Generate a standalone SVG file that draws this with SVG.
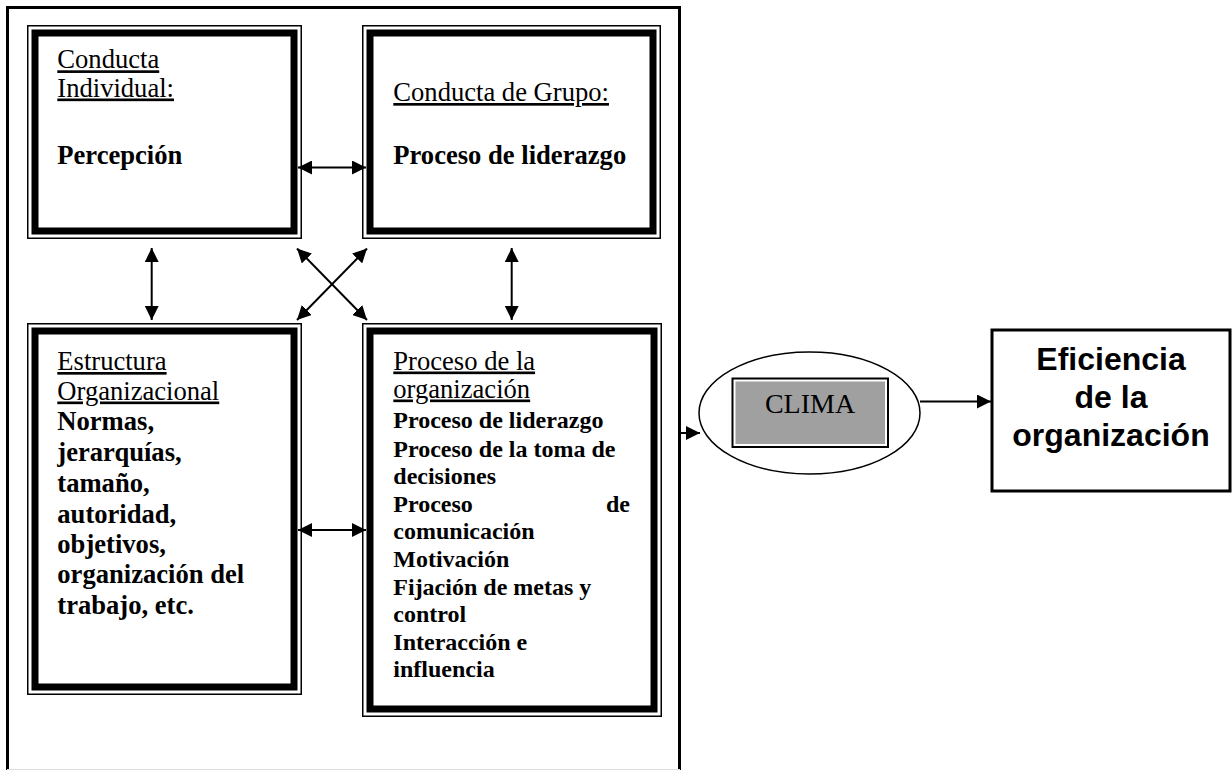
<svg xmlns="http://www.w3.org/2000/svg" width="1232" height="770" viewBox="0 0 1232 770">
<style>
.thin{fill:none;stroke:#000;stroke-width:1.5}
.thick{fill:none;stroke:#000;stroke-width:7}
.frame{fill:none;stroke:#000;stroke-width:3}
.conn{fill:none;stroke:#000;stroke-width:2}
.h{font-family:"Liberation Serif","Times New Roman",serif;font-size:26.6px;fill:#000;text-decoration:underline}
.b{font-family:"Liberation Serif","Times New Roman",serif;font-size:26.6px;font-weight:bold;fill:#000}
.s{font-family:"Liberation Serif","Times New Roman",serif;font-size:24px;font-weight:bold;fill:#000}
.clima{font-family:"Liberation Serif","Times New Roman",serif;font-size:28px;fill:#000}
.ef{font-family:"Liberation Sans",Arial,sans-serif;font-size:32px;font-weight:bold;fill:#000}
</style>
<defs>
<marker id="ah" markerUnits="userSpaceOnUse" markerWidth="15" markerHeight="14" refX="14" refY="7" orient="auto-start-reverse" viewBox="0 0 15 14">
<path d="M0,0 L14,7 L0,14 z" fill="#000"/>
</marker>
</defs>
<rect width="1232" height="770" fill="#fff"/>
<g id="frame">
<path class="frame" d="M7.5,770 V7.5 H679.5 V770"/>
<line x1="7" y1="769.5" x2="680" y2="769.5" stroke="#dcdcdc" stroke-width="1"/>
</g>
<g id="conducta-individual">
<rect class="thin" x="27.75" y="25.75" width="273.5" height="212.5"/>
<rect class="thick" x="35" y="33" width="259" height="198"/>
<text class="h" x="57.3" y="68.3">Conducta</text>
<text class="h" x="57.3" y="96.5">Individual:</text>
<text class="b" x="57.3" y="163.5">Percepción</text>
</g>
<g id="conducta-grupo">
<rect class="thin" x="362.75" y="25.75" width="297.5" height="212.5"/>
<rect class="thick" x="370" y="33" width="283" height="198"/>
<text class="h" x="393.3" y="101">Conducta de Grupo:</text>
<text class="b" x="393.3" y="163.5">Proceso de liderazgo</text>
</g>
<g id="estructura-organizacional">
<rect class="thin" x="27.75" y="323.75" width="273.5" height="370.5"/>
<rect class="thick" x="35" y="331" width="259" height="356"/>
<text class="h" x="57.3" y="370">Estructura</text>
<text class="h" x="57.3" y="399.5">Organizacional</text>
<text class="b" x="57.3" y="430.3">Normas,</text>
<text class="b" x="57.3" y="460.8">jerarquías,</text>
<text class="b" x="57.3" y="491.5">tamaño,</text>
<text class="b" x="57.3" y="522.5">autoridad,</text>
<text class="b" x="57.3" y="553">objetivos,</text>
<text class="b" x="57.3" y="583.3">organización del</text>
<text class="b" x="57.3" y="613.8">trabajo, etc.</text>
</g>
<g id="proceso-organizacion">
<rect class="thin" x="362.75" y="323.75" width="298.5" height="392.5"/>
<rect class="thick" x="370" y="331" width="284" height="378"/>
<text class="h" x="393.3" y="369.5">Proceso de la</text>
<text class="h" x="393.3" y="397.5">organización</text>
<text class="s" x="393.3" y="428.3">Proceso de liderazgo</text>
<text class="s" x="393.3" y="456.5">Proceso de la toma de</text>
<text class="s" x="393.3" y="483.5">decisiones</text>
<text class="s" x="393.3" y="511.5">Proceso</text>
<text class="s" x="630" y="511.5" text-anchor="end">de</text>
<text class="s" x="393.3" y="538.5">comunicación</text>
<text class="s" x="393.3" y="566.7">Motivación</text>
<text class="s" x="393.3" y="595">Fijación de metas y</text>
<text class="s" x="393.3" y="621.7">control</text>
<text class="s" x="393.3" y="649.5">Interacción e</text>
<text class="s" x="393.3" y="677">influencia</text>
</g>
<g id="clima">
<ellipse cx="809.5" cy="413" rx="110.5" ry="61" fill="#fff" stroke="#000" stroke-width="1.5"/>
<rect x="732.5" y="378.5" width="155.5" height="68.5" fill="#fff" stroke="#000" stroke-width="2"/>
<rect x="735.5" y="381.5" width="149.5" height="62.5" fill="#a0a0a0"/>
<text class="clima" x="810" y="412.5" text-anchor="middle">CLIMA</text>
</g>
<g id="eficiencia">
<rect x="992" y="330" width="238" height="161" fill="#fff" stroke="#000" stroke-width="3"/>
<text class="ef" x="1111" y="370" text-anchor="middle">Eficiencia</text>
<text class="ef" x="1111" y="408" text-anchor="middle">de la</text>
<text class="ef" x="1111" y="445.5" text-anchor="middle">organización</text>
</g>
<g id="connectors">
<line class="conn" x1="298" y1="167.5" x2="366" y2="167.5" marker-start="url(#ah)" marker-end="url(#ah)"/>
<line class="conn" x1="298" y1="530" x2="366" y2="530" marker-start="url(#ah)" marker-end="url(#ah)"/>
<line class="conn" x1="151.7" y1="248" x2="151.7" y2="320" marker-start="url(#ah)" marker-end="url(#ah)"/>
<line class="conn" x1="511.7" y1="248" x2="511.7" y2="320" marker-start="url(#ah)" marker-end="url(#ah)"/>
<line class="conn" x1="297" y1="248.5" x2="367" y2="320" marker-start="url(#ah)" marker-end="url(#ah)"/>
<line class="conn" x1="367" y1="248.5" x2="297" y2="320" marker-start="url(#ah)" marker-end="url(#ah)"/>
<line class="conn" x1="681" y1="433" x2="700" y2="433" marker-end="url(#ah)"/>
<line class="conn" x1="920" y1="401.5" x2="991" y2="401.5" marker-end="url(#ah)"/>
</g>
</svg>
